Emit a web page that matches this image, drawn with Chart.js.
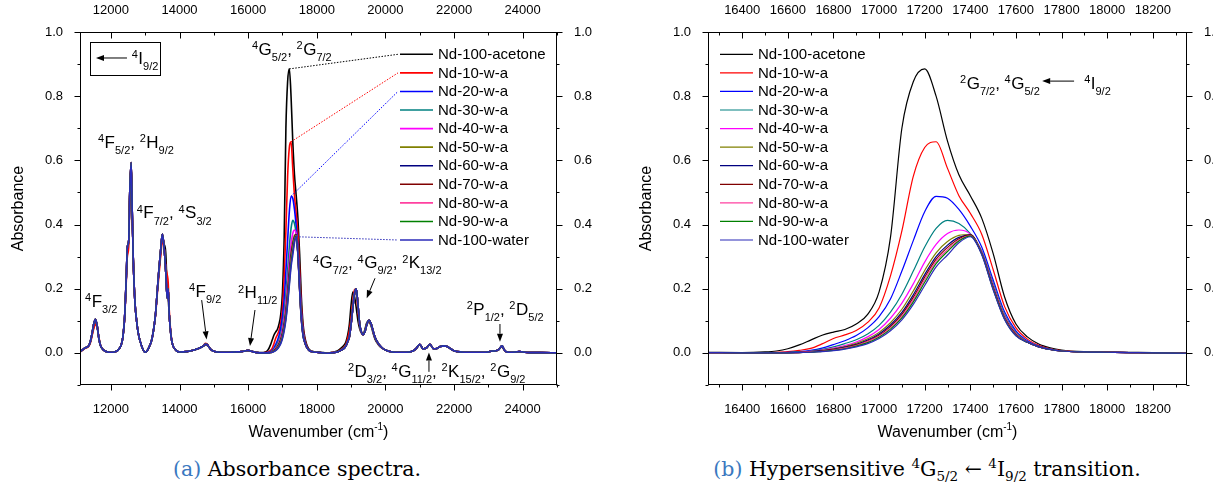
<!DOCTYPE html>
<html>
<head>
<meta charset="utf-8">
<script src="https://cdn.jsdelivr.net/npm/chart.js@4.4.0/dist/chart.umd.min.js"></script>
<style>
  body { margin: 0; background: #fff; width: 1213px; height: 486px; overflow: hidden; position: relative; }
  #wrapA { position: absolute; left: 0; top: 0; width: 610px; height: 450px; }
  #wrapB { position: absolute; left: 610px; top: 0; width: 603px; height: 450px; }
  .cap { position: absolute; top: 457px; line-height: 24px; text-align: center; white-space: nowrap;
         font-family: "DejaVu Serif", "Liberation Serif", serif; font-size: 20.5px; color: #000; }
  .cap .tag { color: #3a78c0; }
  .cap sup, .cap sub { font-size: 13.5px; line-height: 0; }
</style>
</head>
<body>
<div id="wrapA"><canvas id="chartA" width="610" height="450"></canvas></div>
<div id="wrapB"><canvas id="chartB" width="603" height="450"></canvas></div>
<div class="cap" style="left:0;width:594px;"><span class="tag">(a)</span> Absorbance spectra.</div>
<div class="cap" style="left:641px;width:572px;"><span class="tag">(b)</span> Hypersensitive <sup>4</sup>G<sub>5/2</sub> ← <sup>4</sup>I<sub>9/2</sub> transition.</div>
<script>
// ---- series ----
const seriesNames = ['Nd-100-acetone', 'Nd-10-w-a', 'Nd-20-w-a', 'Nd-30-w-a', 'Nd-40-w-a', 'Nd-50-w-a',
                     'Nd-60-w-a', 'Nd-70-w-a', 'Nd-80-w-a', 'Nd-90-w-a', 'Nd-100-water'];
const seriesColors = ['#000000', '#ff0000', '#0000ff', '#008080', '#ff00ff', '#808000',
                      '#000080', '#800000', '#ff40a0', '#008000', '#2b2bb8'];

// ---- tick labels ----
const ticksA = [12000, 14000, 16000, 18000, 20000, 22000, 24000];
const ticksB = [16400, 16600, 16800, 17000, 17200, 17400, 17600, 17800, 18000, 18200];
const ticksY = [0.0, 0.2, 0.4, 0.6, 0.8, 1.0];

// ---- hypersensitive band, wavenumber (cm-1) ----
const xBand = [16250, 16400, 16500, 16550, 16600, 16650, 16700, 16750, 16800, 16850, 16900, 16950,
               17000, 17050, 17100, 17150, 17200, 17250, 17300, 17350, 17400, 17450, 17500, 17550,
               17600, 17650, 17700, 17750, 17800, 17900, 18000, 18100, 18200, 18350];

const bandAcetone = [0.002, 0.001, 0.003, 0.006, 0.013, 0.025, 0.040, 0.055, 0.065, 0.073, 0.090, 0.120,
                     0.190, 0.360, 0.700, 0.845, 0.885, 0.800, 0.660, 0.555, 0.490, 0.420, 0.310, 0.175,
                     0.090, 0.050, 0.028, 0.016, 0.009, 0.004, 0.003, 0.002, 0.001, 0.000];
const band10 = [0.001, 0.000, 0.001, 0.002, 0.004, 0.008, 0.014, 0.028, 0.045, 0.056, 0.070, 0.095,
                0.140, 0.240, 0.380, 0.550, 0.640, 0.658, 0.575, 0.490, 0.435, 0.370, 0.260, 0.145,
                0.078, 0.043, 0.024, 0.013, 0.007, 0.003, 0.002, 0.001, 0.000, -0.001];
const band20 = [0.001, 0.000, 0.000, 0.001, 0.002, 0.004, 0.008, 0.015, 0.026, 0.038, 0.054, 0.078,
                0.113, 0.168, 0.255, 0.350, 0.440, 0.488, 0.482, 0.447, 0.395, 0.330, 0.228, 0.128,
                0.069, 0.038, 0.021, 0.012, 0.006, 0.003, 0.002, 0.001, 0.000, -0.001];
const band30 = [0.001, 0.000, 0.000, 0.000, 0.001, 0.003, 0.006, 0.011, 0.019, 0.029, 0.041, 0.059,
                0.086, 0.127, 0.183, 0.255, 0.330, 0.388, 0.413, 0.403, 0.372, 0.318, 0.218, 0.120,
                0.064, 0.035, 0.020, 0.011, 0.006, 0.003, 0.002, 0.001, 0.000, -0.001];
const band40 = [0.001, 0.000, 0.000, 0.000, 0.001, 0.002, 0.005, 0.009, 0.015, 0.023, 0.034, 0.050,
                0.073, 0.108, 0.155, 0.215, 0.283, 0.338, 0.372, 0.383, 0.370, 0.315, 0.212, 0.115,
                0.061, 0.034, 0.019, 0.011, 0.006, 0.003, 0.002, 0.001, 0.000, -0.001];
const band50 = [0.001, 0.000, 0.000, 0.000, 0.001, 0.002, 0.004, 0.008, 0.013, 0.020, 0.030, 0.044,
                0.064, 0.094, 0.136, 0.193, 0.257, 0.312, 0.347, 0.366, 0.369, 0.312, 0.207, 0.112,
                0.059, 0.033, 0.019, 0.011, 0.006, 0.003, 0.002, 0.001, 0.000, -0.001];
const band60 = [0.001, 0.000, 0.000, 0.000, 0.001, 0.002, 0.004, 0.007, 0.011, 0.018, 0.027, 0.040,
                0.059, 0.087, 0.126, 0.181, 0.244, 0.300, 0.336, 0.360, 0.368, 0.311, 0.204, 0.109,
                0.057, 0.033, 0.019, 0.011, 0.006, 0.003, 0.002, 0.001, 0.000, -0.001];
const band70 = [0.001, 0.000, 0.000, 0.000, 0.000, 0.001, 0.003, 0.006, 0.010, 0.016, 0.025, 0.037,
                0.055, 0.082, 0.120, 0.173, 0.236, 0.292, 0.329, 0.356, 0.367, 0.310, 0.202, 0.108,
                0.056, 0.033, 0.019, 0.011, 0.006, 0.003, 0.002, 0.001, 0.000, -0.001];
const band80 = [0.001, 0.000, 0.000, 0.000, 0.000, 0.001, 0.003, 0.005, 0.009, 0.015, 0.023, 0.035,
                0.052, 0.078, 0.114, 0.166, 0.228, 0.285, 0.322, 0.352, 0.365, 0.309, 0.200, 0.107,
                0.055, 0.033, 0.019, 0.011, 0.006, 0.003, 0.002, 0.001, 0.000, -0.001];
const band90 = [0.001, 0.000, 0.000, 0.000, 0.000, 0.001, 0.002, 0.005, 0.008, 0.013, 0.021, 0.032,
                0.049, 0.074, 0.109, 0.159, 0.220, 0.278, 0.316, 0.349, 0.364, 0.308, 0.199, 0.106,
                0.054, 0.033, 0.019, 0.011, 0.006, 0.003, 0.002, 0.001, 0.000, -0.001];
const bandWater = [0.001, 0.000, 0.000, 0.000, 0.000, 0.001, 0.002, 0.004, 0.007, 0.012, 0.019, 0.029,
                   0.045, 0.069, 0.103, 0.151, 0.210, 0.268, 0.305, 0.343, 0.362, 0.306, 0.197, 0.104,
                   0.053, 0.033, 0.019, 0.011, 0.006, 0.003, 0.002, 0.001, 0.000, -0.001];

// ---- full spectrum below and above the band ----
const xLow = [11100, 11200, 11250, 11300, 11350, 11400, 11450, 11500, 11550, 11600, 11650, 11700,
              11800, 11900, 12000, 12100, 12200, 12300, 12350, 12400, 12450, 12480, 12520, 12550,
              12590, 12620, 12650, 12700, 12750, 12800, 12900, 13000, 13100, 13200, 13300, 13350,
              13400, 13450, 13500, 13550, 13600, 13640, 13670, 13700, 13750, 13800, 13900, 14000,
              14200, 14400, 14500, 14600, 14700, 14750, 14800, 14850, 14900, 15000, 15200, 15400,
              15600, 15800, 15900, 16000, 16100, 16200];
const lowWater = [0.003, 0.012, 0.016, 0.018, 0.022, 0.035, 0.060, 0.090, 0.105, 0.085, 0.045, 0.022,
                  0.008, 0.003, 0.002, 0.003, 0.008, 0.025, 0.050, 0.110, 0.240, 0.330, 0.350, 0.500,
                  0.593, 0.450, 0.300, 0.160, 0.100, 0.060, 0.020, 0.002, 0.015, 0.045, 0.120, 0.190,
                  0.260, 0.320, 0.370, 0.330, 0.250, 0.170, 0.200, 0.120, 0.055, 0.025, 0.008, 0.003,
                  0.004, 0.008, 0.012, 0.016, 0.022, 0.027, 0.026, 0.020, 0.012, 0.005, 0.002, 0.002,
                  0.003, 0.004, 0.006, 0.008, 0.005, 0.002];
const lowAcetone = [0.003, 0.012, 0.016, 0.018, 0.022, 0.033, 0.055, 0.080, 0.100, 0.080, 0.043, 0.021,
                    0.008, 0.003, 0.002, 0.003, 0.008, 0.025, 0.050, 0.110, 0.235, 0.325, 0.345, 0.490,
                    0.585, 0.445, 0.300, 0.160, 0.100, 0.060, 0.020, 0.002, 0.015, 0.045, 0.120, 0.190,
                    0.255, 0.310, 0.360, 0.340, 0.310, 0.200, 0.170, 0.120, 0.055, 0.025, 0.008, 0.003,
                    0.004, 0.008, 0.012, 0.016, 0.021, 0.025, 0.024, 0.019, 0.012, 0.005, 0.002, 0.002,
                    0.003, 0.004, 0.006, 0.008, 0.005, 0.002];
const low10 = [0.003, 0.010, 0.014, 0.016, 0.020, 0.030, 0.052, 0.075, 0.088, 0.080, 0.050, 0.024,
               0.008, 0.003, 0.002, 0.003, 0.008, 0.025, 0.050, 0.105, 0.225, 0.300, 0.330, 0.480,
               0.570, 0.440, 0.300, 0.160, 0.100, 0.060, 0.020, 0.002, 0.015, 0.045, 0.115, 0.180,
               0.240, 0.300, 0.345, 0.330, 0.270, 0.245, 0.220, 0.135, 0.060, 0.025, 0.008, 0.003,
               0.004, 0.008, 0.012, 0.016, 0.023, 0.030, 0.029, 0.021, 0.012, 0.005, 0.002, 0.002,
               0.003, 0.004, 0.006, 0.008, 0.005, 0.002];

const xHigh = [18400, 18500, 18600, 18700, 18800, 18850, 18900, 18950, 19000, 19050, 19100, 19150,
               19200, 19250, 19300, 19350, 19400, 19450, 19500, 19530, 19600, 19650, 19700, 19800,
               19900, 20000, 20200, 20400, 20600, 20800, 20900, 21000, 21100, 21200, 21300, 21400,
               21500, 21600, 21700, 21800, 21900, 22000, 22200, 22400, 22600, 22800, 23000, 23100,
               23200, 23300, 23400, 23450, 23500, 23600, 23800, 23900, 24000, 24200, 24500, 25000];
const highWater = [0.000, 0.001, 0.003, 0.008, 0.015, 0.022, 0.035, 0.050, 0.090, 0.140, 0.185, 0.200,
                   0.150, 0.090, 0.065, 0.057, 0.065, 0.085, 0.100, 0.102, 0.085, 0.065, 0.048, 0.028,
                   0.016, 0.009, 0.003, 0.002, 0.002, 0.006, 0.014, 0.027, 0.012, 0.016, 0.027, 0.013,
                   0.014, 0.020, 0.022, 0.020, 0.013, 0.007, 0.003, 0.002, 0.002, 0.002, 0.003, 0.006,
                   0.006, 0.010, 0.022, 0.012, 0.005, 0.002, 0.003, 0.004, 0.003, 0.001, 0.001, 0.000];
const highAcetone = [0.001, 0.003, 0.006, 0.014, 0.025, 0.035, 0.055, 0.090, 0.150, 0.190, 0.175, 0.140,
                     0.100, 0.075, 0.062, 0.060, 0.072, 0.092, 0.100, 0.098, 0.078, 0.058, 0.042, 0.025,
                     0.015, 0.009, 0.003, 0.002, 0.002, 0.006, 0.014, 0.026, 0.012, 0.016, 0.026, 0.013,
                     0.014, 0.020, 0.022, 0.020, 0.013, 0.007, 0.003, 0.002, 0.002, 0.002, 0.003, 0.006,
                     0.006, 0.010, 0.020, 0.011, 0.005, 0.002, 0.003, 0.004, 0.003, 0.001, 0.001, 0.000];
const high10 = [0.000, 0.002, 0.004, 0.010, 0.018, 0.027, 0.045, 0.070, 0.110, 0.160, 0.198, 0.190,
                0.130, 0.085, 0.063, 0.057, 0.066, 0.086, 0.098, 0.098, 0.083, 0.063, 0.047, 0.027,
                0.016, 0.009, 0.003, 0.002, 0.002, 0.006, 0.014, 0.027, 0.012, 0.016, 0.027, 0.013,
                0.014, 0.020, 0.022, 0.020, 0.013, 0.007, 0.003, 0.002, 0.002, 0.002, 0.003, 0.006,
                0.006, 0.010, 0.021, 0.012, 0.005, 0.002, 0.003, 0.004, 0.003, 0.001, 0.001, 0.000];

const bandSets = [bandAcetone, band10, band20, band30, band40, band50, band60, band70, band80, band90, bandWater];
const lowFor = i => (i === 0 ? lowAcetone : i === 1 ? low10 : lowWater);
const highFor = i => (i === 0 ? highAcetone : i === 1 ? high10 : highWater);

const SANS = '"Liberation Sans", Arial, sans-serif';
const pts = (xs, ys) => xs.map((x, k) => ({ x: x, y: ys[k] }));

// term symbol text: ^n is a left superscript, _{..} a subscript
function drawTerm(ctx, str, x, y, size) {
  const small = Math.round(size * 0.62);
  let i = 0, cx = x;
  ctx.textBaseline = 'alphabetic';
  ctx.textAlign = 'left';
  while (i < str.length) {
    const c = str[i];
    if (c === '^' || c === '_') {
      let t;
      if (str[i + 1] === '{') { const j = str.indexOf('}', i); t = str.slice(i + 2, j); i = j + 1; }
      else { t = str[i + 1]; i += 2; }
      ctx.font = small + 'px ' + SANS;
      ctx.fillText(t, cx, c === '^' ? y - size * 0.34 : y + size * 0.36);
      cx += ctx.measureText(t).width + (c === '^' ? 0.5 : 0);
    } else {
      let j = i;
      while (j < str.length && str[j] !== '^' && str[j] !== '_') j++;
      const t = str.slice(i, j);
      ctx.font = size + 'px ' + SANS;
      ctx.fillText(t, cx, y);
      cx += ctx.measureText(t).width;
      i = j;
    }
  }
}

function drawArrow(ctx, x0, y0, x1, y1) {
  const a = Math.atan2(y1 - y0, x1 - x0), L = 8, W = 3;
  const bx = x1 - L * Math.cos(a), by = y1 - L * Math.sin(a);
  ctx.beginPath(); ctx.moveTo(x0, y0); ctx.lineTo(bx, by); ctx.stroke();
  ctx.beginPath(); ctx.moveTo(x1, y1);
  ctx.lineTo(bx + W * Math.sin(a), by - W * Math.cos(a));
  ctx.lineTo(bx - W * Math.sin(a), by + W * Math.cos(a));
  ctx.closePath(); ctx.fill();
}

// frame, Origin-style major/minor ticks, axis titles, labels and legend
function makeDecor(cfg) {
  return {
    id: 'decor',
    afterDatasetsDraw(chart) {
      const ctx = chart.ctx, sx = chart.scales.x, sy = chart.scales.y;
      ctx.save();
      ctx.fillStyle = '#000'; ctx.strokeStyle = '#000'; ctx.lineWidth = 1;
      // dotted leaders from band maxima to their legend rows
      cfg.leaders.forEach(i => {
        const ys = bandSets[i];
        let k = 0;
        ys.forEach((v, n) => { if (v > ys[k]) k = n; });
        ctx.save();
        ctx.strokeStyle = seriesColors[i]; ctx.setLineDash([1.5, 1.5]);
        ctx.beginPath();
        ctx.moveTo(sx.getPixelForValue(xBand[k]), sy.getPixelForValue(ys[k]));
        ctx.lineTo(cfg.legend.x0 - 2, cfg.legend.y0 + i * cfg.legend.dy);
        ctx.stroke();
        ctx.restore();
      });
      // legend
      seriesNames.forEach((name, i) => {
        const y = cfg.legend.y0 + i * cfg.legend.dy;
        ctx.strokeStyle = seriesColors[i]; ctx.lineWidth = cfg.lw;
        ctx.beginPath(); ctx.moveTo(cfg.legend.x0, y); ctx.lineTo(cfg.legend.x0 + 33, y); ctx.stroke();
        ctx.font = '15px ' + SANS; ctx.textBaseline = 'middle'; ctx.textAlign = 'left';
        ctx.fillText(name, cfg.legend.x0 + 38, y + 0.5);
      });
      ctx.strokeStyle = '#000'; ctx.lineWidth = 1;
      cfg.labels.forEach(l => drawTerm(ctx, l[0], sx.getPixelForValue(l[1]), sy.getPixelForValue(l[2]), 17));
      cfg.arrows.forEach(a => drawArrow(ctx, sx.getPixelForValue(a[0]), sy.getPixelForValue(a[1]),
                                        sx.getPixelForValue(a[2]), sy.getPixelForValue(a[3])));
      if (cfg.box) {
        const b = cfg.box;
        const x0 = Math.round(sx.getPixelForValue(b[0])) + 0.5, y0 = Math.round(sy.getPixelForValue(b[1])) + 0.5;
        const x1 = Math.round(sx.getPixelForValue(b[2])) + 0.5, y1 = Math.round(sy.getPixelForValue(b[3])) + 0.5;
        ctx.strokeRect(x0, y0, x1 - x0, y1 - y0);
      }
      ctx.restore();
    },
    afterDraw(chart) {
      const ctx = chart.ctx, a = chart.chartArea;
      ctx.save();
      ctx.strokeStyle = '#000'; ctx.fillStyle = '#000'; ctx.lineWidth = 1;
      const L = Math.round(a.left) + 0.5, R = Math.round(a.right) - 0.5;
      const T = Math.round(a.top) + 0.5, B = Math.round(a.bottom) - 0.5;
      ctx.strokeRect(L, T, R - L, B - T);
      Object.values(chart.scales).forEach(s => {
        const major = s.ticks.map(t => t.value);
        const half = (major[1] - major[0]) / 2;
        const vals = [];
        for (let v = major[0]; v >= s.min - 1e-9; v -= half) vals.push(v);
        for (let v = major[0] + half; v <= s.max + 1e-9; v += half) vals.push(v);
        ctx.beginPath();
        vals.forEach(v => {
          const isMajor = major.some(m => Math.abs(m - v) < half / 10);
          const len = isMajor ? 6 : 3;
          const p = Math.round(s.getPixelForValue(v)) + 0.5;
          if (s.position === 'bottom') { ctx.moveTo(p, B); ctx.lineTo(p, B + len); }
          if (s.position === 'top') { ctx.moveTo(p, T); ctx.lineTo(p, T + len); }
          if (s.position === 'left') { ctx.moveTo(L, p); ctx.lineTo(L - len, p); }
          if (s.position === 'right') { ctx.moveTo(R, p); ctx.lineTo(R + len, p); }
        });
        ctx.stroke();
      });
      // axis titles
      const cx = (a.left + a.right) / 2;
      ctx.font = '16px ' + SANS; ctx.textBaseline = 'alphabetic'; ctx.textAlign = 'left';
      const w1 = ctx.measureText('Wavenumber (cm').width;
      ctx.font = '10px ' + SANS;
      const w2 = ctx.measureText('-1').width;
      ctx.font = '16px ' + SANS;
      const w3 = ctx.measureText(')').width;
      let tx = cx - (w1 + w2 + w3) / 2;
      ctx.fillText('Wavenumber (cm', tx, 437);
      ctx.font = '10px ' + SANS; ctx.fillText('-1', tx + w1, 430);
      ctx.font = '16px ' + SANS; ctx.fillText(')', tx + w1 + w2, 437);
      ctx.save();
      ctx.translate(a.left - 61, (a.top + a.bottom) / 2);
      ctx.rotate(-Math.PI / 2);
      ctx.textAlign = 'center'; ctx.textBaseline = 'middle';
      ctx.fillText('Absorbance', 0, 0);
      ctx.restore();
      ctx.restore();
    }
  };
}

function axis(pos, min, max, ticks, size, fmt) {
  const horiz = pos === 'top' || pos === 'bottom';
  return {
    type: 'linear', position: pos, min: min, max: max,
    grid: { display: false }, border: { display: false },
    afterBuildTicks: s => { s.ticks = ticks.map(v => ({ value: v })); },
    afterFit: s => { if (horiz) s.height = size; else s.width = size; },
    ticks: { color: '#000', font: { family: SANS, size: 13 }, padding: pos === 'top' ? 6 : 9, maxRotation: 0,
             autoSkip: false, callback: fmt }
  };
}

function makeChart(id, xMin, xMax, xTicks, sizes, datasets, cfg) {
  const fx = v => String(v), fy = v => v.toFixed(1);
  return new Chart(document.getElementById(id), {
    type: 'line',
    data: { datasets: datasets },
    options: {
      responsive: false, animation: false, devicePixelRatio: 1,
      layout: { padding: 0 },
      elements: { point: { radius: 0 } },
      plugins: { legend: { display: false }, tooltip: { enabled: false } },
      scales: {
        x: axis('bottom', xMin, xMax, xTicks, sizes.bottom, fx),
        x2: axis('top', xMin, xMax, xTicks, sizes.top, fx),
        y: axis('left', -0.1, 1.0, ticksY, sizes.left, fy),
        y2: axis('right', -0.1, 1.0, ticksY, sizes.right, fy)
      }
    },
    plugins: [makeDecor(cfg)]
  });
}

// panel (a): whole spectrum
const dsA = seriesNames.map((name, i) => ({
  label: name,
  data: [...pts(xLow, lowFor(i)), ...pts(xBand, bandSets[i]), ...pts(xHigh, highFor(i))],
  borderColor: seriesColors[i], borderWidth: 1.6, cubicInterpolationMode: 'monotone',
  order: seriesNames.length - 1 - i
}));
makeChart('chartA', 11100, 25000, ticksA, { top: 32, bottom: 65, left: 80, right: 53 }, dsA, {
  lw: 1.6,
  legend: { x0: 400, y0: 54.3, dy: 18.57 },
  leaders: [0, 1, 2, 10],
  labels: [
    ['^4G_{5/2}, ^2G_{7/2}', 16112, 0.928],
    ['^4F_{5/2}, ^2H_{9/2}', 11624, 0.6385],
    ['^4F_{7/2}, ^4S_{3/2}', 12752, 0.419],
    ['^4F_{3/2}', 11246, 0.144],
    ['^4F_{9/2}', 14276, 0.175],
    ['^2H_{11/2}', 15704, 0.170],
    ['^4G_{7/2}, ^4G_{9/2}, ^2K_{13/2}', 17889, 0.2636],
    ['^2P_{1/2}, ^2D_{5/2}', 22368, 0.118],
    ['^2D_{3/2}, ^4G_{11/2}, ^2K_{15/2}, ^2G_{9/2}', 18909, -0.074],
    ['^4I_{9/2}', 12606, 0.900]
  ],
  arrows: [
    [14646, 0.1645, 14789, 0.042],
    [16199, 0.1337, 16053, 0.0215],
    [19696, 0.2326, 19454, 0.170],
    [23338, 0.090, 23338, 0.035],
    [21269, -0.059, 21269, 0.001],
    [12469, 0.919, 11566, 0.919]
  ],
  box: [11391, 0.9688, 13431, 0.866]
});

// panel (b): hypersensitive band only
const dsB = seriesNames.map((name, i) => ({
  label: name,
  data: pts(xBand, bandSets[i]),
  borderColor: seriesColors[i], borderWidth: 1.2, cubicInterpolationMode: 'monotone',
  order: seriesNames.length - 1 - i
}));
makeChart('chartB', 16250, 18350, ticksB, { top: 32, bottom: 65, left: 98, right: 26 }, dsB, {
  lw: 1.2,
  legend: { x0: 110, y0: 54.3, dy: 18.57 },
  leaders: [],
  labels: [
    ['^2G_{7/2}, ^4G_{5/2}', 17355, 0.8224],
    ['^4I_{9/2}', 17899, 0.8224]
  ],
  arrows: [[17855, 0.847, 17715, 0.847]],
  box: null
});
</script>
</body>
</html>
